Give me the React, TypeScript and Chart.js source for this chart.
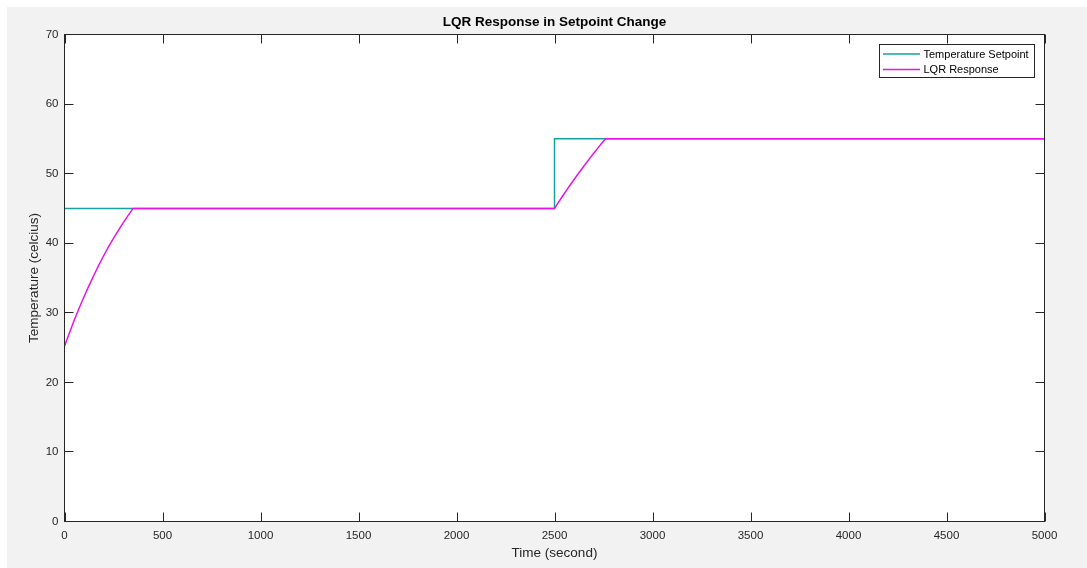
import React, { useEffect, useRef } from 'react';
import { Chart, registerables } from 'chart.js';

Chart.register(...registerables);

const chartTitle = 'LQR Response in Setpoint Change';
const xTitle = 'Time (second)';
const yTitle = 'Temperature (celcius)';
const seriesNames = ['Temperature Setpoint', 'LQR Response'];
const seriesColors = ['rgb(22,160,160)', 'rgb(230,20,230)'];

const setpointTime = [0, 2500, 2500, 5000];
const setpointTemp = [45, 45, 55, 55];

const lqrTime = [
  0, 25, 50, 75, 100, 125, 150, 175, 200, 225, 250, 275, 300, 325, 350,
  2500, 2520, 2540, 2560, 2580, 2600, 2620, 2640, 2660, 2680, 2700, 2720, 2740, 2760,
  5000,
];
const lqrTemp = [
  25.2, 27.1, 28.95, 30.7, 32.35, 33.9, 35.4, 36.85, 38.2, 39.5, 40.7, 41.85, 42.95, 44.0, 45,
  45, 45.87, 46.71, 47.55, 48.36, 49.16, 49.94, 50.71, 51.46, 52.2, 52.92, 53.63, 54.33, 55,
  55,
];

const xTicks = [0, 500, 1000, 1500, 2000, 2500, 3000, 3500, 4000, 4500, 5000];
const yTicks = [0, 10, 20, 30, 40, 50, 60, 70];

const FONT = "'Liberation Sans', Arial, Helvetica, sans-serif";
const AXIS_COLOR = '#262626';

const framePlugin = {
  id: 'matlabFrame',
  beforeDatasetsDraw(chart: any) {
    const { ctx, chartArea: a } = chart;
    ctx.save();
    ctx.fillStyle = '#ffffff';
    ctx.fillRect(a.left, a.top, a.right - a.left, a.bottom - a.top);
    ctx.restore();
  },
  afterDatasetsDraw(chart: any) {
    const { ctx, chartArea: a, scales } = chart;
    const xs = scales.x;
    const ys = scales.y;
    ctx.save();
    ctx.strokeStyle = AXIS_COLOR;
    ctx.lineWidth = 1;
    // frame
    ctx.strokeRect(a.left, a.top, a.right - a.left, a.bottom - a.top);
    // inward ticks
    const tl = 9;
    ctx.beginPath();
    xTicks.forEach((v) => {
      const px = Math.round(xs.getPixelForValue(v)) + 0.5;
      ctx.moveTo(px, a.bottom);
      ctx.lineTo(px, a.bottom - tl);
      ctx.moveTo(px, a.top);
      ctx.lineTo(px, a.top + tl);
    });
    yTicks.forEach((v) => {
      const py = Math.round(ys.getPixelForValue(v) - 0.5) + 0.5;
      ctx.moveTo(a.left, py);
      ctx.lineTo(a.left + tl, py);
      ctx.moveTo(a.right, py);
      ctx.lineTo(a.right - tl, py);
    });
    ctx.stroke();

    // title
    ctx.fillStyle = '#000000';
    ctx.font = `bold 13.5px ${FONT}`;
    ctx.textAlign = 'center';
    ctx.textBaseline = 'middle';
    ctx.fillText(chartTitle, (a.left + a.right) / 2, 15);

    // legend
    const bx = 872.5, by = 37.5, bw = 155, bh = 33;
    ctx.fillStyle = '#ffffff';
    ctx.fillRect(bx, by, bw, bh);
    ctx.strokeStyle = AXIS_COLOR;
    ctx.strokeRect(bx, by, bw, bh);
    const rows = [47, 62.5];
    ctx.font = `11px ${FONT}`;
    ctx.textAlign = 'left';
    ctx.textBaseline = 'middle';
    seriesNames.forEach((name, i) => {
      ctx.strokeStyle = seriesColors[i];
      ctx.lineWidth = 1.5;
      ctx.beginPath();
      ctx.moveTo(876, rows[i]);
      ctx.lineTo(913, rows[i]);
      ctx.stroke();
      ctx.fillStyle = '#000000';
      ctx.fillText(name, 916.5, rows[i] + 0.5);
    });
    ctx.restore();
  },
};

export default function App() {
  const canvasRef = useRef<HTMLCanvasElement | null>(null);

  useEffect(() => {
    if (!canvasRef.current) return;
    const chart = new Chart(canvasRef.current, {
      type: 'line',
      data: {
        datasets: [
          {
            label: seriesNames[0],
            data: setpointTime.map((t, i) => ({ x: t, y: setpointTemp[i] })),
            borderColor: seriesColors[0],
            borderWidth: 1.5,
            pointRadius: 0,
            fill: false,
            tension: 0,
            order: 1,
          },
          {
            label: seriesNames[1],
            data: lqrTime.map((t, i) => ({ x: t, y: lqrTemp[i] })),
            borderColor: seriesColors[1],
            borderWidth: 1.5,
            pointRadius: 0,
            fill: false,
            tension: 0,
            order: 0,
          },
        ],
      },
      options: {
        animation: false,
        responsive: false,
        maintainAspectRatio: false,
        devicePixelRatio: 1,
        layout: { padding: { top: 27.5, right: 42.5, bottom: 0, left: 0 } },
        plugins: {
          legend: { display: false },
          title: { display: false },
          tooltip: { enabled: false },
        },
        scales: {
          x: {
            type: 'linear',
            min: 0,
            max: 5000,
            grid: { display: false, drawTicks: false },
            border: { display: false },
            afterBuildTicks: (scale: any) => {
              scale.ticks = xTicks.map((v) => ({ value: v }));
            },
            afterFit: (scale: any) => {
              scale.height = 46.5;
            },
            ticks: {
              autoSkip: false,
              maxRotation: 0,
              padding: 7,
              color: AXIS_COLOR,
              font: { family: FONT, size: 11.5 },
              callback: (v: any) => String(v),
            },
            title: {
              display: true,
              text: xTitle,
              color: AXIS_COLOR,
              font: { family: FONT, size: 13.5 },
              padding: { top: 0, bottom: 6.5 },
            },
          },
          y: {
            type: 'linear',
            min: 0,
            max: 70,
            grid: { display: false, drawTicks: false },
            border: { display: false },
            afterBuildTicks: (scale: any) => {
              scale.ticks = yTicks.map((v) => ({ value: v }));
            },
            afterFit: (scale: any) => {
              scale.width = 57.5;
            },
            ticks: {
              autoSkip: false,
              padding: 6,
              color: AXIS_COLOR,
              font: { family: FONT, size: 11.5 },
              callback: (v: any) => String(v),
            },
            title: {
              display: true,
              text: yTitle,
              color: AXIS_COLOR,
              font: { family: FONT, size: 13.5 },
              padding: { top: 19, bottom: 0 },
            },
          },
        },
      },
      plugins: [framePlugin],
    } as any);
    return () => chart.destroy();
  }, []);

  return (
    <div
      style={{
        position: 'absolute',
        left: 7,
        top: 7,
        width: 1080,
        height: 561,
        background: '#f2f2f2',
        overflow: 'hidden',
      }}
    >
      <canvas ref={canvasRef} width={1080} height={561} style={{ display: 'block' }} />
    </div>
  );
}
